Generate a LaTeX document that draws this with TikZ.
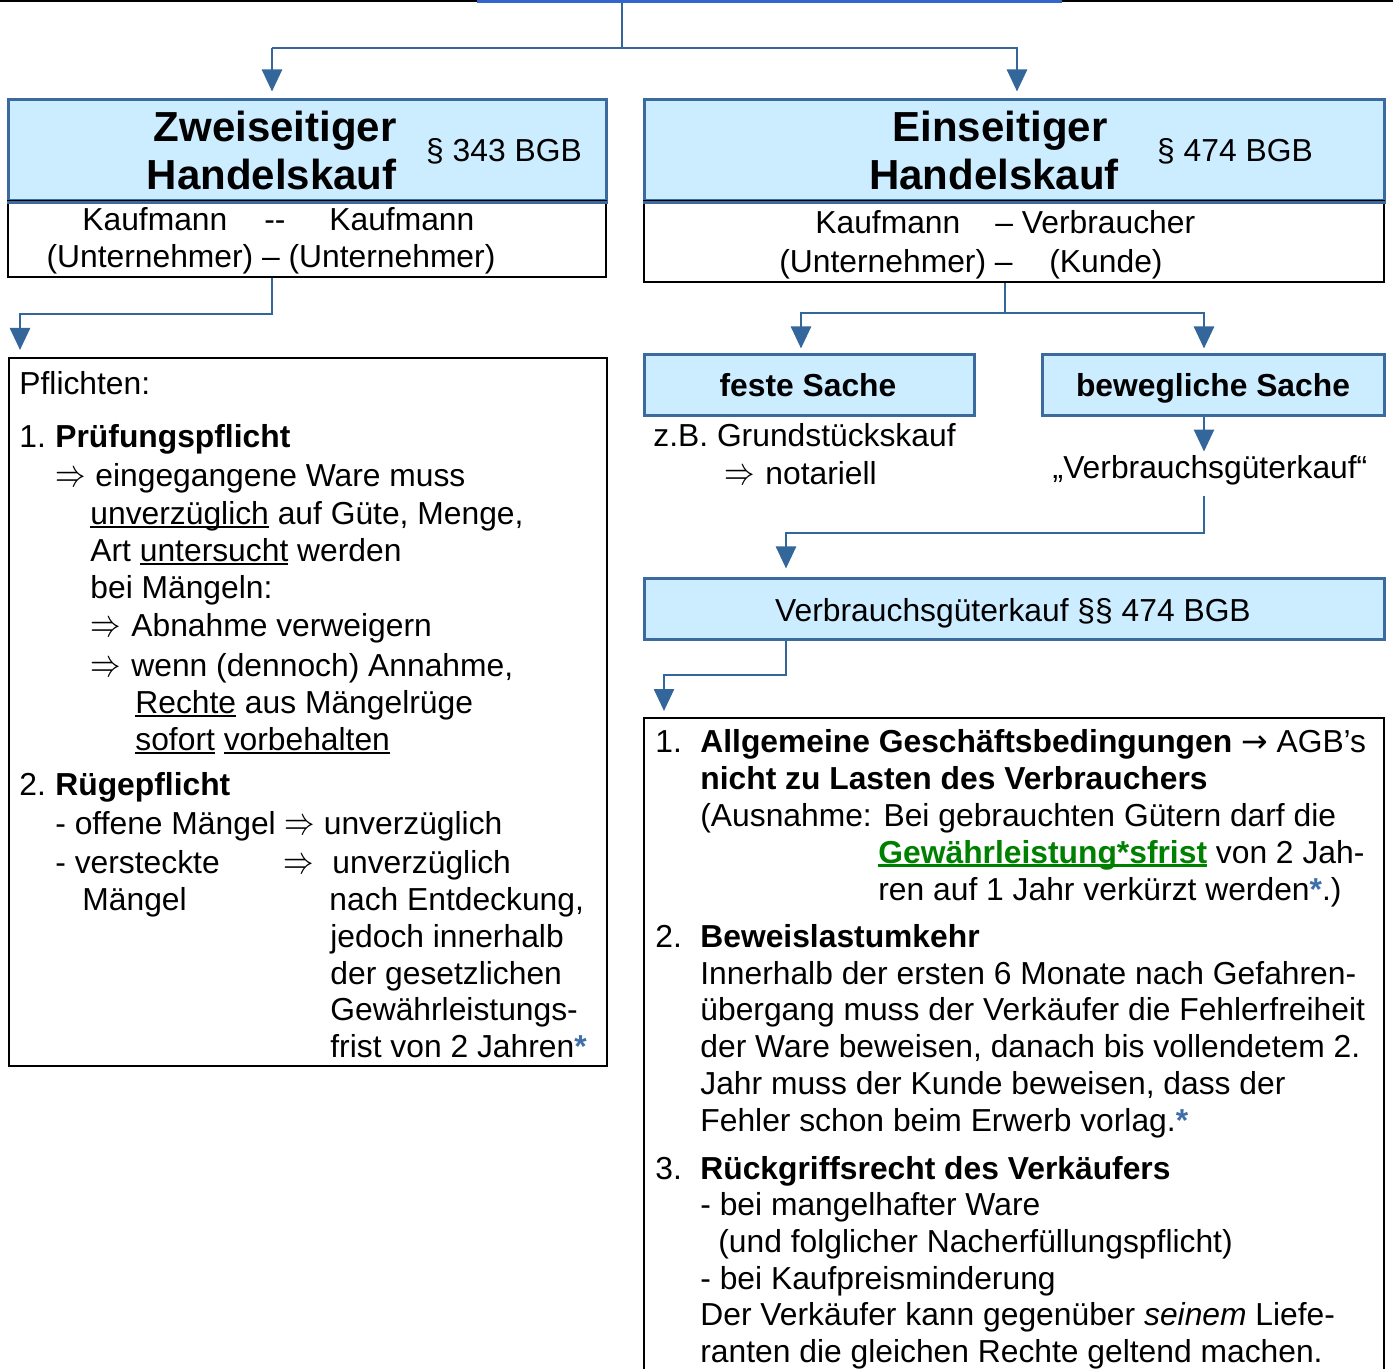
\documentclass[tikz,border=0pt]{standalone}
\usepackage{fontspec}
\usepackage{graphicx}
\setmainfont{Liberation Sans}
\newfontfamily\dejavu{DejaVu Sans}
\usetikzlibrary{arrows.meta}
\definecolor{lb}{HTML}{CCECFF}
\definecolor{bb}{HTML}{3A6A9E}
\definecolor{cb}{HTML}{33669A}
\definecolor{topblue}{HTML}{3366CC}
\definecolor{gr}{HTML}{008000}
\definecolor{ast}{HTML}{3F6FA8}
\newcommand{\bast}{\textcolor{ast}{\textbf{*}}}
\newcommand{\RA}{\raisebox{0pt}[1.1ex][0pt]{\scalebox{0.88}[1.12]{$\Rightarrow$}}}
\newsavebox\myulbox
\newcommand{\myul}[2][1pt]{\sbox\myulbox{#2}\rlap{\rule[-2.2pt]{\wd\myulbox}{#1}}\usebox\myulbox}
\tikzset{
  conn/.style={draw=cb, line width=1.3pt, -{Triangle[length=11pt,width=10pt]}},
  plain/.style={draw=cb, line width=1.3pt},
  hdr/.style={draw=bb, fill=lb, line width=1.5pt, inner sep=0pt},
  wbox/.style={draw=black, line width=1pt, inner sep=0pt},
  tx/.style={anchor=base west, inner sep=0pt},
  tc/.style={anchor=base, inner sep=0pt},
  big/.style={font=\fontsize{21}{25}\selectfont\bfseries},
}
\begin{document}
\begin{tikzpicture}[x=0.5pt,y=-0.5pt,font=\fontsize{15.9}{19}\selectfont]
\useasboundingbox (0,0) rectangle (1393,1369);
% top
\draw[black, line width=1pt] (0,1) -- (1393,1);
\node[draw=topblue, line width=1.5pt, minimum width=291pt, minimum height=30pt, inner sep=0pt] (topbox) at (769,-28) {};
% left header
\node[hdr, minimum width=299pt, minimum height=50.5pt] (lh) at (307,150.5) {};
\node[wbox, minimum width=299pt, minimum height=38pt] (lsub) at (307,239) {};
\draw[bb, line width=1.5pt] (lh.south west) -- (lh.south east);
\node[tx, big, anchor=base east] (lh1) at (397,142) {Zweiseitiger};
\node[tx, big, anchor=base east] (lh2) at (397,190) {Handelskauf};
\node[tc] (lhp) at (504,162) {§ 343 BGB};
\node[tx] (ls1) at (82,231) {Kaufmann};
\node[tx] (ls2) at (264,231) {-{}-};
\node[tx] (ls3) at (329,231) {Kaufmann};
\node[tc] (ls4) at (271,268) {(Unternehmer) – (Unternehmer)};
% right header
\node[hdr, minimum width=370pt, minimum height=50.5pt] (rh) at (1014,150.5) {};
\node[wbox, minimum width=370pt, minimum height=40.5pt] (rsub) at (1014,241.5) {};
\draw[bb, line width=1.5pt] (rh.south west) -- (rh.south east);
\node[tc, big] (rh1) at (1000,142) {Einseitiger};
\node[tc, big] (rh2) at (994,190) {Handelskauf};
\node[tc] (rhp) at (1235,162) {§ 474 BGB};
\node[tx] (rs1) at (815,234) {Kaufmann};
\node[tx] (rs2) at (995,234) {– Verbraucher};
\node[tx] (rs3) at (779,273) {(Unternehmer) –};
\node[tx] (rs4) at (1049,273) {(Kunde)};
% top connectors
\draw[plain] (622,0 |- topbox.south) -- (622,48);
\draw[conn, shorten >=3.5pt] (272,48) -- (272,0 |- lh.north);
\draw[conn, shorten >=3.5pt] (622,48) -| (1017,0 |- rh.north);
\draw[plain] (622,48) -- (272,48);
% left flow
\node[wbox, minimum width=299pt, minimum height=354pt] (lbig) at (308,712) {};
\draw[conn, shorten >=3.5pt] (272,0 |- lsub.south) -- (272,314) -| (20,0 |- lbig.north);
\node[tx] (p0) at (19,395) {Pflichten:};
\node[tx] (p1a) at (19,448) {1.};
\node[tx] (p1b) at (55,448) {\textbf{Prüfungspflicht}};
\node[tx] (p2a) at (55,487) {\RA};
\node[tx] (p2b) at (95,487) {eingegangene Ware muss};
\node[tx] (p3) at (90,524) {\myul{unverzüglich} auf Güte, Menge,};
\node[tx] (p4) at (90,561) {Art \myul{untersucht} werden};
\node[tx] (p5) at (90,598) {bei Mängeln:};
\node[tx] (p6a) at (90,637) {\RA};
\node[tx] (p6b) at (131,637) {Abnahme verweigern};
\node[tx] (p7a) at (90,676) {\RA};
\node[tx] (p7b) at (131,676) {wenn (dennoch) Annahme,};
\node[tx] (p8) at (135,713) {\myul{Rechte} aus Mängelrüge};
\node[tx] (p9) at (135,750) {\myul{sofort} \myul{vorbehalten}};
\node[tx] (q1a) at (19,795) {2.};
\node[tx] (q1b) at (55,795) {\textbf{Rügepflicht}};
\node[tx] (q2) at (55,834) {- offene Mängel \RA{} unverzüglich};
\node[tx] (q3a) at (55,873) {- versteckte};
\node[tx] (q3b) at (283,873) {\RA};
\node[tx] (q3c) at (332,873) {unverzüglich};
\node[tx] (q4a) at (82,910) {Mängel};
\node[tx] (q4b) at (329,910) {nach Entdeckung,};
\node[tx] (q5) at (330,947) {jedoch innerhalb};
\node[tx] (q6) at (330,984) {der gesetzlichen};
\node[tx] (q7) at (330,1020) {Gewährleistungs-};
\node[tx] (q8) at (330,1057) {frist von 2 Jahren\bast};
% right flow
\node[hdr, minimum width=165pt, minimum height=30.5pt] (feste) at (809,385.5) {};
\node[tc] (festet) at (808,397) {\textbf{feste Sache}};
\node[hdr, minimum width=171pt, minimum height=30.5pt] (bew) at (1213,385.5) {};
\node[tc] (bewt) at (1213,397) {\textbf{bewegliche Sache}};
\draw[plain] (1005,0 |- rsub.south) -- (1005,313);
\draw[conn, shorten >=2.5pt] (1005,313) -| (801,0 |- feste.north);
\draw[conn, shorten >=2.5pt] (1005,313) -| (1204,0 |- bew.north);
\node[tx] (zb) at (653,447) {z.B. Grundstückskauf};
\node[tx] (nota) at (724,485) {\RA};
\node[tx] (notb) at (765,485) {notariell};
\node[tc, inner sep=2pt] (vgk) at (1210,479) {„Verbrauchsgüterkauf“};
\draw[conn] (1204,0 |- bew.south) -- (1204,0 |- vgk.north);
\node[hdr, minimum width=370pt, minimum height=30pt] (vbox) at (1014,609) {};
\node[tc] (vboxt) at (1013,621) {Verbrauchsgüterkauf §§ 474 BGB};
\draw[conn, shorten >=4.5pt] (1204,496) -- (1204,533) -| (786,0 |- vbox.north);
\node[wbox, minimum width=370pt, minimum height=351pt] (rbig) at (1014,1069) {};
\draw[conn, shorten >=3pt] (786,0 |- vbox.south) -- (786,675) -| (664,0 |- rbig.north);
\node[tx] (r1a) at (655,752) {1.};
\node[tx] (r1b) at (700,752) {\textbf{Allgemeine Geschäftsbedingungen} {\dejavu →} AGB’s};
\node[tx] (r2) at (700,789) {\textbf{nicht zu Lasten des Verbrauchers}};
\node[tx] (r3) at (700,826) {(Ausnahme: Bei gebrauchten Gütern darf die};
\node[tx] (r4) at (878,863) {\textcolor{gr}{\myul[1.5pt]{\textbf{Gewährleistung*sfrist}}} von 2 Jah-};
\node[tx] (r5) at (878,900) {ren auf 1 Jahr verkürzt werden\bast.)};
\node[tx] (s1a) at (655,947) {2.};
\node[tx] (s1b) at (700,947) {\textbf{Beweislastumkehr}};
\node[tx] (s2) at (700,984) {Innerhalb der ersten 6 Monate nach Gefahren-};
\node[tx] (s3) at (700,1020) {übergang muss der Verkäufer die Fehlerfreiheit};
\node[tx] (s4) at (700,1057) {der Ware beweisen, danach bis vollendetem 2.};
\node[tx] (s5) at (700,1094) {Jahr muss der Kunde beweisen, dass der};
\node[tx] (s6) at (700,1131) {Fehler schon beim Erwerb vorlag.\bast};
\node[tx] (t1a) at (655,1179) {3.};
\node[tx] (t1b) at (700,1179) {\textbf{Rückgriffsrecht des Verkäufers}};
\node[tx] (t2) at (700,1215) {- bei mangelhafter Ware};
\node[tx] (t3) at (718,1252) {(und folglicher Nacherfüllungspflicht)};
\node[tx] (t4) at (700,1289) {- bei Kaufpreisminderung};
\node[tx] (t5) at (700,1325) {Der Verkäufer kann gegenüber \textit{seinem} Liefe-};
\node[tx] (t6) at (700,1362) {ranten die gleichen Rechte geltend machen.};
\end{tikzpicture}
\end{document}
